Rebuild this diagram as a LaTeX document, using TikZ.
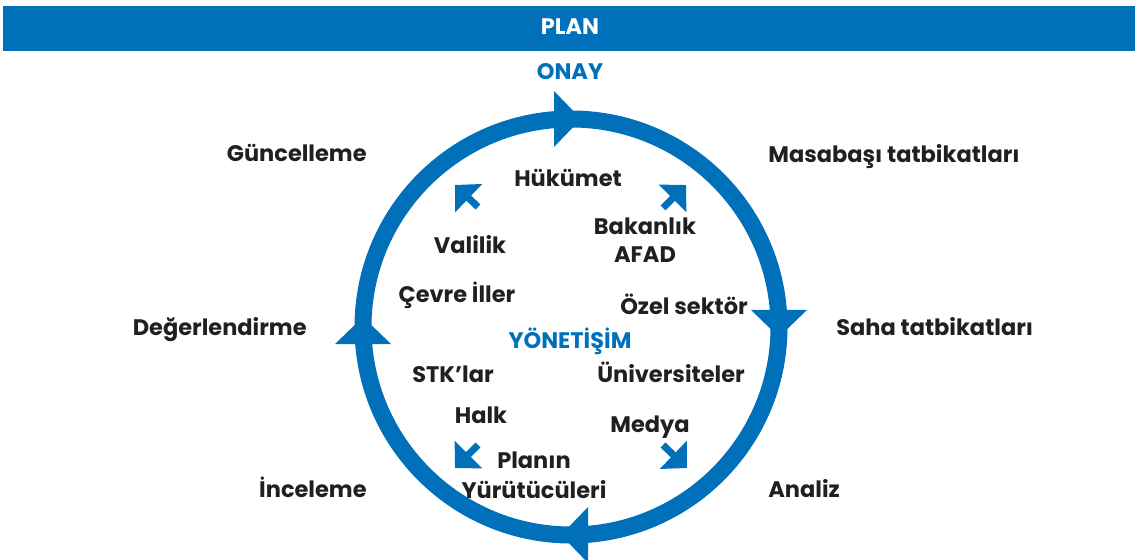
\documentclass[tikz,border=0pt]{standalone}
\usepackage{fontspec}
\setmainfont{Poppins}
\usepackage{tikz}
\usetikzlibrary{arrows.meta,positioning}
\definecolor{planblue}{HTML}{0070BA}
\definecolor{textdark}{HTML}{231F20}
\tikzset{
  ring/.style={planblue,line width=0.34cm},
  smallarrow/.style={planblue,line width=0.14cm,-{Triangle[length=0.38cm,width=0.76cm]}},
  phase/.style={font=\bfseries\fontsize{12.8}{16}\selectfont,text=textdark,inner sep=0pt},
  actor/.style={phase,align=center,anchor=base},
  bluetitle/.style={phase,text=planblue,anchor=base}
}
\begin{document}
\begin{tikzpicture}[x=0.02cm,y=-0.02cm]
\useasboundingbox (0,0) rectangle (1135,560);
% header bar
\fill[planblue] (3,6) rectangle (1135,51);
\node[phase,text=white,anchor=base] (plan) at (570,35) {PLAN};
% cycle
\coordinate (ctr) at (571,327);
\draw[ring] (ctr) circle (208);
\foreach \r in {0,-90,-180,-270}{
  \fill[planblue,rotate around={\r:(ctr)}] (554,91) -- (554,147) -- (581,119) -- cycle;
}
\node[bluetitle] (onay) at (570,80) {ONAY};
% phases round the cycle
\node[phase,anchor=base east] (guncel) at (367,162) {Güncelleme};
\node[phase,anchor=base east] (deger) at (307,336) {Değerlendirme};
\node[phase,anchor=base east] (incele) at (367,497) {İnceleme};
\node[phase,anchor=base west] (masa) at (768,163) {Masabaşı tatbikatları};
\node[phase,anchor=base west] (saha) at (836,336) {Saha tatbikatları};
\node[phase,anchor=base west] (analiz) at (768,497) {Analiz};
% actors inside
\node[bluetitle] (yonet) at (570,348) {YÖNETİŞİM};
\node[actor] (hukumet) at (568,187) {Hükümet};
\node[actor] (valilik) at (470,254) {Valilik};
\node[actor,font=\bfseries\fontsize{12.8}{28\dimexpr0.02cm\relax}\selectfont] (bakan) at (645,263) {Bakanlık\\AFAD};
\node[actor] (cevre) at (457,303) {Çevre İller};
\node[actor] (ozel) at (684,315) {Özel sektör};
\node[actor] (stk) at (453,382) {STK'lar};
\node[actor] (univ) at (671,382) {Üniversiteler};
\node[actor] (halk) at (481,423) {Halk};
\node[actor] (medya) at (650,432) {Medya};
\node[actor,font=\bfseries\fontsize{12.8}{30\dimexpr0.02cm\relax}\selectfont] (yurut) at (534,498) {Planın\\Yürütücüleri};
% small arrows
\coordinate (ulS) at (478,207); \coordinate (ulE) at (455,185);
\coordinate (urS) at (663,208); \coordinate (urE) at (686,185);
\coordinate (dlS) at (478,445); \coordinate (dlE) at (455,468);
\coordinate (drS) at (663,445); \coordinate (drE) at (687,468);
\draw[smallarrow] (ulS) -- (ulE);
\draw[smallarrow] (urS) -- (urE);
\draw[smallarrow] (dlS) -- (dlE);
\draw[smallarrow] (drS) -- (drE);
\end{tikzpicture}
\end{document}
